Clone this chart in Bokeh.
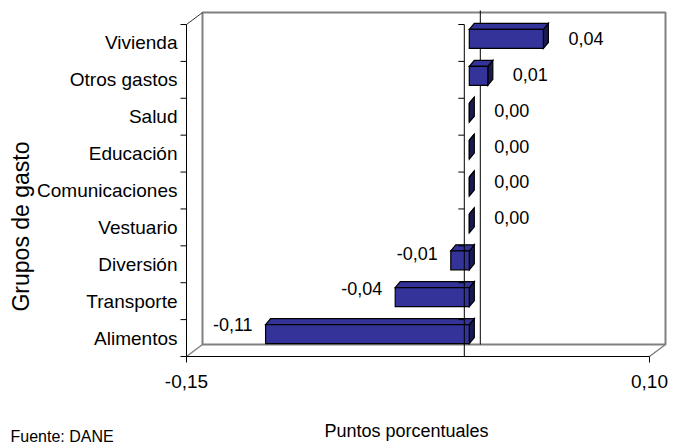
import math
from bokeh.plotting import figure
from bokeh.models import Range1d, ColumnDataSource
from bokeh.core.properties import value
from bokeh.embed import file_html
from bokeh.resources import INLINE

# ---------------- data ----------------
categories = ["Alimentos", "Transporte", "Diversión", "Vestuario", "Comunicaciones",
              "Educación", "Salud", "Otros gastos", "Vivienda"]
values = [-0.11, -0.04, -0.01, 0.00, 0.00, 0.00, 0.00, 0.01, 0.04]
x_ticks = [-0.15, 0.10]
x_title = "Puntos porcentuales"
y_title = "Grupos de gasto"
source_note = "Fuente: DANE"

# ---------------- geometry (page pixels) ----------------
FONT = "Liberation Sans"
W, H = 673, 444
AX_L, AX_R = 186, 649         # px of the first / last x tick on the front edge
AX_B, AX_T = 356, 24          # px of the front floor edge / top of front category axis
X_MIN, X_MAX = x_ticks[0], x_ticks[-1]
N = len(categories)
U = (X_MAX - X_MIN) / (AX_R - AX_L)   # value units per px
V = N / (AX_B - AX_T)                  # category units per px
WDX, WDY = 16, 12                      # wall depth offset in px (right, up)


def sx(px):  # page x px -> data x
    return X_MIN + (px - AX_L) * U


def sy(py):  # page y px -> data y
    return -0.5 + (AX_B - py) * V


p = figure(width=W, height=H, output_backend="svg", toolbar_location=None,
           x_range=Range1d(sx(0), sx(W)), y_range=Range1d(sy(H), sy(0)),
           x_axis_type=None, y_axis_type=None)
p.min_border = 0
p.outline_line_color = None
p.background_fill_color = "white"
p.border_fill_color = "white"

Y_LO, Y_HI = -0.5, N - 0.5

# ---------------- walls ----------------
bx0, bx1 = X_MIN + WDX * U, X_MAX + WDX * U
by0, by1 = Y_LO + WDY * V, Y_HI + WDY * V
p.patch([bx0, bx1, bx1, bx0], [by0, by0, by1, by1], fill_color=None,
        line_color="#808080", line_width=2)
p.segment(x0=[X_MIN, X_MAX], y0=[Y_LO, Y_LO], x1=[bx0, bx1], y1=[by0, by0],
          line_color="#808080", line_width=1.5)
p.segment(x0=[X_MIN], y0=[Y_HI], x1=[bx0], y1=[by1], line_color="#333333", line_width=1)

# zero line on the back wall
p.segment(x0=[WDX * U], y0=[by0], x1=[WDX * U], y1=[by1 + 2 * V],
          line_color="black", line_width=1)

# ---------------- front axes (left edge + floor edge) ----------------
bounds = [k - 0.5 for k in range(N + 1)]
p.segment(x0=[X_MIN], y0=[Y_LO], x1=[X_MIN], y1=[Y_HI], line_color="black", line_width=1)
p.segment(x0=[X_MIN - 6 * U] * (N + 1), y0=bounds, x1=[X_MIN] * (N + 1), y1=bounds,
          line_color="black", line_width=1)
p.segment(x0=[X_MIN], y0=[Y_LO], x1=[X_MAX], y1=[Y_LO], line_color="black", line_width=1)
p.segment(x0=x_ticks, y0=[Y_LO] * len(x_ticks), x1=x_ticks,
          y1=[Y_LO - 6 * V] * len(x_ticks), line_color="black", line_width=1)

# ---------------- bars ----------------
DXF, DYF = 5, 4      # front-face offset from the front plane (px right, up)
DXB, DYB = 5, 6      # bar depth (px right, up)
HALF = 9.5           # half bar height (px)

fx, fy, tx, ty, rx, ry = [], [], [], [], [], []
for i, v in enumerate(values):
    x1 = min(v, 0) + DXF * U
    x2 = max(v, 0) + DXF * U
    yb = i + (DYF - HALF) * V
    yt = i + (DYF + HALF) * V
    ddx, ddy = DXB * U, DYB * V
    fx.append([x1, x2, x2, x1]); fy.append([yb, yb, yt, yt])
    tx.append([x1, x2, x2 + ddx, x1 + ddx]); ty.append([yt, yt, yt + ddy, yt + ddy])
    rx.append([x2, x2 + ddx, x2 + ddx, x2]); ry.append([yb, yb + ddy, yt + ddy, yt])

p.patches(rx, ry, fill_color="#1a1a50", line_color="black", line_width=1.2, line_join="miter")
p.patches(tx, ty, fill_color="#333399", line_color="black", line_width=1.2, line_join="miter")
p.patches(fx, fy, fill_color="#333399", line_color="black", line_width=1.2, line_join="miter")

# front zero (category) axis with ticks
p.segment(x0=[0], y0=[Y_LO], x1=[0], y1=[Y_HI], line_color="black", line_width=1)
p.segment(x0=[-6 * U] * (N + 1), y0=bounds, x1=[0] * (N + 1), y1=bounds,
          line_color="black", line_width=1)

# ---------------- tick labels ----------------
def fmt(v):
    return f"{v:.2f}".replace(".", ",").replace("-0,00", "0,00")

p.text(x=[X_MIN - 9 * U] * N, y=list(range(N)), text=categories,
       text_align="right", text_baseline="middle", text_font=value(FONT),
       text_font_size="19px", text_color="black")
p.text(x=x_ticks, y=[sy(381)] * len(x_ticks), text=[fmt(t) for t in x_ticks],
       text_align="center", text_baseline="middle", text_font=value(FONT),
       text_font_size="19px", text_color="black")

# ---------------- value labels ----------------
pos = dict(x=[], y=[], t=[])
neg = dict(x=[], y=[], t=[])
for i, v in enumerate(values):
    ly = i + (4 + 1.2 * (N - 1 - i)) * V
    if v >= 0:
        pos["x"].append(v + 30 * U); pos["y"].append(ly); pos["t"].append(fmt(v))
    else:
        neg["x"].append(v - 8 * U); neg["y"].append(ly); neg["t"].append(fmt(v))

p.text(x="x", y="y", text="t", source=ColumnDataSource(pos), text_align="left",
       text_baseline="middle", text_font=value(FONT), text_font_size="18px",
       text_color="black")
p.text(x="x", y="y", text="t", source=ColumnDataSource(neg), text_align="right",
       text_baseline="middle", text_font=value(FONT), text_font_size="18px",
       text_color="black")

# ---------------- titles ----------------
p.text(x=[sx(20)], y=[sy(226)], text=[y_title], angle=math.pi / 2,
       text_align="center", text_baseline="middle", text_font=value(FONT),
       text_font_size="23px", text_color="black")
p.text(x=[sx(406)], y=[sy(430)], text=[x_title], text_align="center",
       text_baseline="middle", text_font=value(FONT), text_font_size="18px",
       text_color="black")
p.text(x=[sx(10)], y=[sy(436)], text=[source_note], text_align="left",
       text_baseline="middle", text_font=value(FONT), text_font_size="16px",
       text_color="black")

open("out.html", "w").write(file_html(p, INLINE))
